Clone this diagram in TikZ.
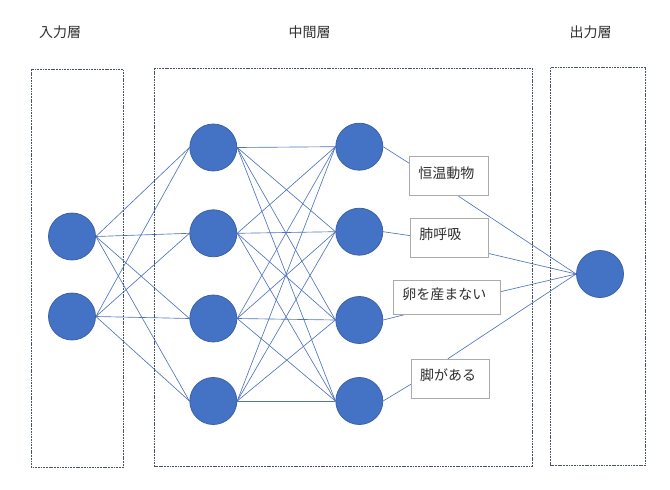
\documentclass[tikz,border=0pt]{standalone}
\usepackage{fontspec}
\newfontfamily\jp{Noto Sans CJK JP}
\usetikzlibrary{calc,backgrounds}
\definecolor{nblue}{HTML}{4472C4}
\definecolor{nborder}{HTML}{3A62A8}
\definecolor{linkblue}{HTML}{4F74BC}
\definecolor{layergray}{HTML}{4A5468}
\definecolor{lblgray}{HTML}{ABABAB}
\definecolor{txt}{HTML}{303030}
\begin{document}
\begin{tikzpicture}[x=1pt,y=-1pt,
  neuron/.style={circle, fill=nblue, draw=nborder, line width=0.8pt, minimum size=47pt, inner sep=0pt},
  link/.style={draw=linkblue, line width=0.65pt},
  layerbox/.style={draw=layergray, line width=0.9pt, dash pattern=on 1.8pt off 0.9pt},
  title/.style={font=\jp\fontsize{14}{14}\selectfont, text=txt, inner sep=0pt},
  lblbox/.style={draw=lblgray, fill=white, line width=0.8pt, font=\jp\fontsize{14}{14}\selectfont,
     text=txt, inner xsep=9pt, inner ysep=0pt, align=left, text height=9pt, text depth=5.2pt}
]
\useasboundingbox (0,0) rectangle (670,490);

% layer boxes
\path[layerbox] (31,69) rectangle (123,467);
\path[layerbox] (154.5,68) rectangle (532,466);
\path[layerbox] (550.7,67.5) rectangle (645.7,465.5);

% titles
\node[title] (t1) at (60,32.5) {入力層};
\node[title] (t2) at (309.5,32.5) {中間層};
\node[title] (t3) at (590.5,32.5) {出力層};

% neurons
\node[neuron] (i1) at (72,236.5) {};
\node[neuron] (i2) at (72,316.5) {};
\node[neuron] (a1) at (213.3,147.5) {};
\node[neuron] (a2) at (213.3,233.3) {};
\node[neuron] (a3) at (213.3,318.5) {};
\node[neuron] (a4) at (213.3,401) {};
\node[neuron] (b1) at (359.3,146.7) {};
\node[neuron] (b2) at (359.3,231.7) {};
\node[neuron] (b3) at (359.3,320) {};
\node[neuron] (b4) at (359.3,401) {};
\node[neuron] (o) at (600,274) {};

% label boxes
\node[lblbox, minimum width=79pt, minimum height=39pt, text width=61pt] (L1) at (448.8,176.2) {恒温動物};
\node[lblbox, minimum width=78pt, minimum height=39pt, text width=60pt] (L2) at (449.4,238) {肺呼吸};
\node[lblbox, minimum width=107pt, minimum height=34pt, text width=89pt] (L3) at (446.9,297.2) {卵を産まない};
\node[lblbox, minimum width=78pt, minimum height=39pt, text width=60pt] (L4) at (450.2,378.7) {脚がある};

\begin{scope}[on background layer]
\foreach \s in {i1,i2}{
  \foreach \t in {a1,a2,a3,a4}{
    \draw[link] (\s.east) -- (\t.west);
  }
}
\foreach \s in {a1,a2,a3,a4}{
  \foreach \t in {b1,b2,b3,b4}{
    \draw[link] (\s.east) -- (\t.west);
  }
}
\draw[link] (b1.east) -- ($(L1.north west)!0.17!(L1.south west)$);
\draw[link] (b2.east) -- ($(L2.north west)!0.44!(L2.south west)$);
\draw[link] (b3.east) -- ($(L3.south west)!0.11!(L3.south east)$);
\draw[link] (b4.east) -- ($(L4.north west)!0.64!(L4.south west)$);
\draw[link] ($(L1.south west)!0.62!(L1.south east)$) -- (o.west);
\draw[link] ($(L2.north east)!0.89!(L2.south east)$) -- (o.west);
\draw[link] ($(L3.north east)!0.34!(L3.south east)$) -- (o.west);
\draw[link] ($(L4.north west)!0.47!(L4.north east)$) -- (o.west);
\end{scope}
\end{tikzpicture}
\end{document}
